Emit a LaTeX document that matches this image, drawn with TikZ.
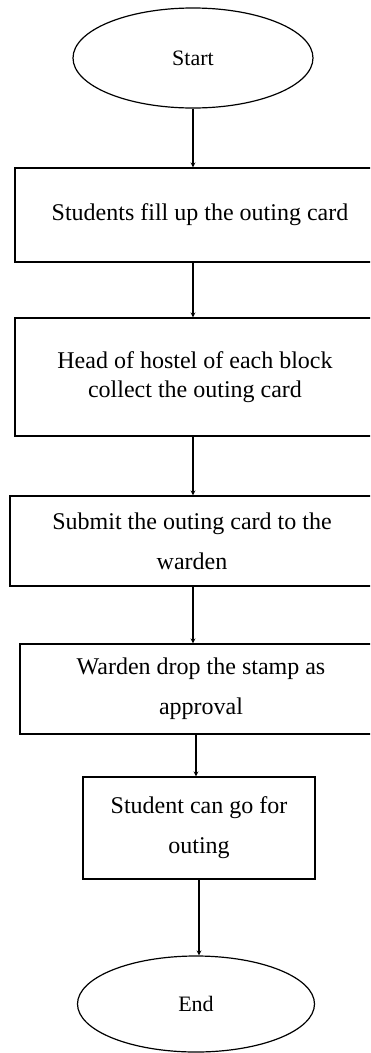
\documentclass[tikz,border=0pt]{standalone}
\usepackage{fontspec}
\setmainfont{Liberation Serif}
\usetikzlibrary{shapes.geometric}

\begin{document}
\begin{tikzpicture}[x=1pt,y=-1pt,>=stealth,line width=1.2pt,every node/.style={draw=black,line width=1.2pt,align=center,inner sep=0pt,font=\fontsize{24}{40}\selectfont},
        stepbox/.style={rectangle},
        endpoint/.style={ellipse,font=\fontsize{22}{25}\selectfont}]
        \useasboundingbox (0,0) rectangle (370,1053);
        \clip (0,0) rectangle (370,1053);

        \node [endpoint, minimum width=240pt, minimum height=100pt] at (193,58) (start) {Start};

        \node [stepbox, minimum width=370pt, minimum height=94pt] at (200,215) (fill) {Students fill up the outing card};
        \node [stepbox, minimum width=360pt, minimum height=118pt, font=\fontsize{24}{29}\selectfont] at (195,377) (collect) {Head of hostel of each block\\collect the outing card};
        \node [stepbox, minimum width=364pt, minimum height=90pt] at (192,541) (submit) {Submit the outing card to the\\warden};
        \node [stepbox, minimum width=362pt, minimum height=90pt] at (201,689) (stamp) {Warden drop the stamp as\\approval};
        \node [stepbox, minimum width=232pt, minimum height=102pt] at (199,828) (outing) {Student can go for\\outing};

        \node [endpoint, minimum width=237pt, minimum height=96pt] at (196,1004) (end) {End};

        \draw [->] (start.south) -- (start.south |- fill.north);
        \draw [->] (start.south |- fill.south) -- (start.south |- collect.north);
        \draw [->] (start.south |- collect.south) -- (start.south |- submit.north);
        \draw [->] (start.south |- submit.south) -- (start.south |- stamp.north);
        \draw [->] (end.north |- stamp.south) -- (end.north |- outing.north);
        \draw [->] (outing.south) -- (outing.south |- end.north);

\end{tikzpicture}
\end{document}
